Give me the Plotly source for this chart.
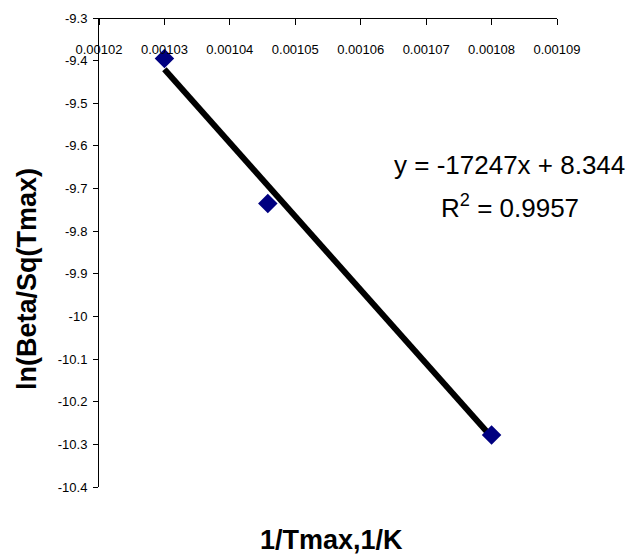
import plotly.graph_objects as go

# Data
inv_tmax = [0.00103, 0.0010458, 0.00108]
ln_beta = [-9.395, -9.735, -10.278]
slope = -17247
intercept = 8.344
r2 = 0.9957

x_ticks = [0.00102, 0.00103, 0.00104, 0.00105, 0.00106, 0.00107, 0.00108, 0.00109]
x_ticktext = ["0.00102", "0.00103", "0.00104", "0.00105", "0.00106", "0.00107", "0.00108", "0.00109"]
y_ticks = [-9.3, -9.4, -9.5, -9.6, -9.7, -9.8, -9.9, -10.0, -10.1, -10.2, -10.3, -10.4]
y_ticktext = ["-9.3", "-9.4", "-9.5", "-9.6", "-9.7", "-9.8", "-9.9", "-10", "-10.1", "-10.2", "-10.3", "-10.4"]

FONT = "Liberation Sans, Arial, sans-serif"

x_line = [min(inv_tmax), max(inv_tmax)]
y_line = [slope * v + intercept for v in x_line]

fig = go.Figure()
fig.add_trace(go.Scatter(x=x_line, y=y_line, mode="lines",
                         line=dict(color="black", width=6), showlegend=False, hoverinfo="skip"))
fig.add_trace(go.Scatter(x=inv_tmax, y=ln_beta, mode="markers",
                         marker=dict(symbol="diamond", size=15, color="#000080"),
                         showlegend=False))

fig.update_layout(
    width=632, height=559,
    margin=dict(l=99, r=75, t=18, b=72),
    paper_bgcolor="white", plot_bgcolor="white",
    font=dict(family=FONT, color="black"),
    xaxis=dict(range=[0.00102, 0.00109], side="bottom", anchor="free", position=1.0,
               tickvals=x_ticks, ticktext=x_ticktext,
               ticks="outside", ticklen=6, tickcolor="black",
               ticklabelstandoff=13,
               showline=True, linecolor="black", linewidth=1, showgrid=False, zeroline=False,
               tickfont=dict(size=13, family=FONT, color="black")),
    yaxis=dict(range=[-10.4, -9.3], domain=[0, 1], tickvals=y_ticks, ticktext=y_ticktext,
               ticks="outside", ticklen=5, tickcolor="black", ticklabelstandoff=3,
               showline=True, linecolor="black", linewidth=1, showgrid=False, zeroline=False,
               tickfont=dict(size=13, family=FONT, color="black")),
    annotations=[
        dict(text="ln(Beta/Sq(Tmax)", xref="paper", yref="paper", x=-0.157, y=0.4435,
             xanchor="center", yanchor="middle", textangle=-90, showarrow=False,
             font=dict(size=27, family=FONT, color="black", weight="bold")),
        dict(text="1/Tmax,1/K", xref="paper", yref="paper", x=0.5066, y=-0.113,
             xanchor="center", yanchor="middle", showarrow=False,
             font=dict(size=27, family=FONT, color="black", weight="bold")),
        dict(text=f"y = {slope}x + {intercept}", xref="paper", yref="paper", x=0.897, y=0.6866,
             xanchor="center", yanchor="middle", showarrow=False,
             font=dict(size=26, family=FONT, color="black")),
        dict(text=f"R<sup>2</sup> = {r2}", xref="paper", yref="paper", x=0.897, y=0.599,
             xanchor="center", yanchor="middle", showarrow=False,
             font=dict(size=26, family=FONT, color="black")),
    ],
)

fig.write_html("out.html")
